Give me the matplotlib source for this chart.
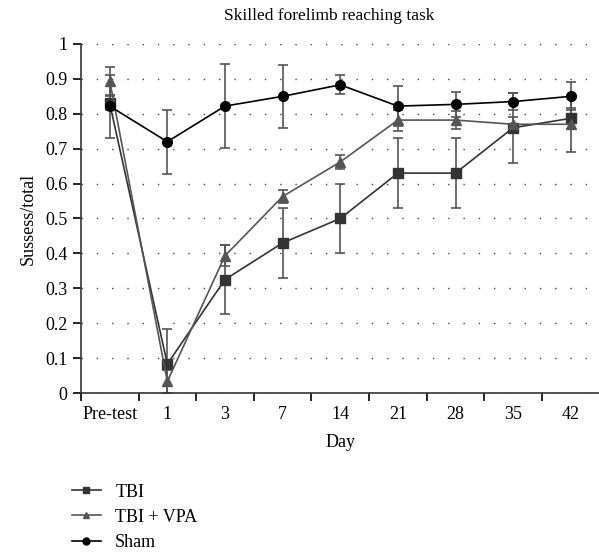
import matplotlib
matplotlib.use('Agg')
import matplotlib.pyplot as plt
from matplotlib.lines import Line2D
import numpy as np

plt.rcParams['font.family'] = ['Liberation Serif', 'DejaVu Serif']

days = ['Pre-test', '1', '3', '7', '14', '21', '28', '35', '42']

tbi = [0.83, 0.083, 0.325, 0.43, 0.50, 0.63, 0.63, 0.76, 0.787]
tbi_err = [0.02, 0.10, 0.10, 0.10, 0.10, 0.10, 0.10, 0.10, 0.03]

tbi_vpa = [0.895, 0.033, 0.393, 0.563, 0.662, 0.782, 0.782, 0.77, 0.77]
tbi_vpa_err = [0.04, 0.033, 0.03, 0.02, 0.02, 0.03, 0.025, 0.02, 0.08]

sham = [0.822, 0.72, 0.822, 0.85, 0.883, 0.822, 0.827, 0.835, 0.85]
sham_err = [0.09, 0.092, 0.12, 0.09, 0.027, 0.057, 0.035, 0.025, 0.04]

fig = plt.figure(figsize=(5.99, 5.54), dpi=100)
ax = fig.add_axes([0.135, 0.2906, 0.866, 0.63])

x = np.arange(len(days))
ekw = dict(ecolor='#555555', elinewidth=1.2, capsize=3.5, capthick=1.2)
ax.errorbar(x, tbi, yerr=tbi_err, color='#333333', marker='s', ms=7, lw=1.2, **ekw)
ax.errorbar(x, tbi_vpa, yerr=tbi_vpa_err, color='#555555', marker='^', ms=7, lw=1.2, **ekw)
ax.errorbar(x, sham, yerr=sham_err, color='black', marker='o', ms=7, lw=1.2, **ekw)

ax.set_xlim(-0.5, len(days) - 0.5)
ax.set_ylim(0, 1)
ax.set_xticks(np.arange(-0.5, len(days), 1.0))
ax.set_xticklabels([])
ax.set_xticks(x, minor=True)
ax.set_xticklabels(days, minor=True, fontsize=13)
ax.tick_params(axis='x', which='minor', length=0, pad=9)
ax.tick_params(axis='x', which='major', direction='out', length=6, width=1.2)
ax.set_yticks(np.arange(0, 1.01, 0.1))
ax.set_yticklabels(['0', '0.1', '0.2', '0.3', '0.4', '0.5', '0.6', '0.7', '0.8', '0.9', '1'],
                   fontsize=13)
ax.tick_params(axis='y', direction='out', length=6, width=1.2)

ax.yaxis.grid(True, linestyle=(0, (1, 10)), color='#444444', lw=1.0)
ax.set_axisbelow(True)
for s in ['top', 'right']:
    ax.spines[s].set_visible(False)
for s in ['left', 'bottom']:
    ax.spines[s].set_linewidth(1.2)
    ax.spines[s].set_color('#333333')

ax.set_xlabel('Day', fontsize=13, labelpad=8)
ax.set_ylabel('Sussess/total', fontsize=13, labelpad=6)
fig.text(0.55, 0.972, 'Skilled forelimb reaching task', ha='center', va='center', fontsize=12.5)

handles = [
    Line2D([], [], color='#333333', marker='s', ms=5, lw=1.2),
    Line2D([], [], color='#555555', marker='^', ms=5, lw=1.2),
    Line2D([], [], color='black', marker='o', ms=5, lw=1.2),
]
fig.legend(handles, ['TBI', 'TBI + VPA', 'Sham'], loc='upper left',
           bbox_to_anchor=(0.108, 0.14), frameon=False, fontsize=13,
           handlelength=1.6, handletextpad=0.8, labelspacing=0.45, borderaxespad=0)

fig.savefig('out.png', dpi=100)
